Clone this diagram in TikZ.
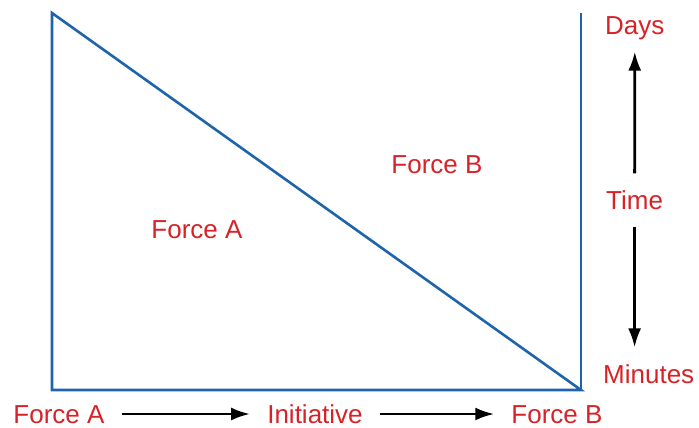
\documentclass[tikz,border=0pt]{standalone}
\usepackage{fontspec}
\setmainfont{Liberation Sans}
\usetikzlibrary{arrows.meta,positioning}

\definecolor{lineblue}{RGB}{30,100,170}
\definecolor{labelred}{RGB}{215,35,40}

\begin{document}
\begin{tikzpicture}[
  x=1pt, y=-1pt,
  font=\fontsize{26}{31}\selectfont,
  >={Latex[length=19pt,width=13pt]},
  lbl/.style={text=labelred, inner sep=0pt, text height=18.7pt, text depth=0pt},
  edge/.style={draw=lineblue, line width=2.6pt, line join=miter},
  arr/.style={->, line width=2.8pt, shorten <=17pt, shorten >=17pt}
]
\useasboundingbox (0,0) rectangle (699,428);

% Corners of the triangle
\coordinate (tl) at (52,13);
\coordinate (bl) at (52,390);
\coordinate (br) at (581,390);
\coordinate (tr) at (581,13);

% Outline
\draw[edge] (tl) -- (bl) -- (br) -- cycle;
\draw[edge] (br) -- (tr);

% Regions
\node[lbl] (regA) at (197,229) {Force A};
\node[lbl] (regB) at (437,164) {Force B};

% Bottom scale
\node[lbl] (fa) at (59,414) {Force A};
\node[lbl] (init) at (315,414) {Initiative};
\node[lbl] (fb) at (557,414) {Force B};

% Right scale
\node[lbl, anchor=west] (days) at (605,25) {Days};
\node[lbl, anchor=west] (time) at (606,200) {Time};
\node[lbl, anchor=west] (mins) at (603,374) {Minutes};

% Arrows
\draw[arr] (fa) -- (init);
\draw[arr] (init) -- (fb);
\draw[arr] (time) -- (days);
\draw[arr] (time.south) -- (time.south |- mins.north);

\end{tikzpicture}
\end{document}
